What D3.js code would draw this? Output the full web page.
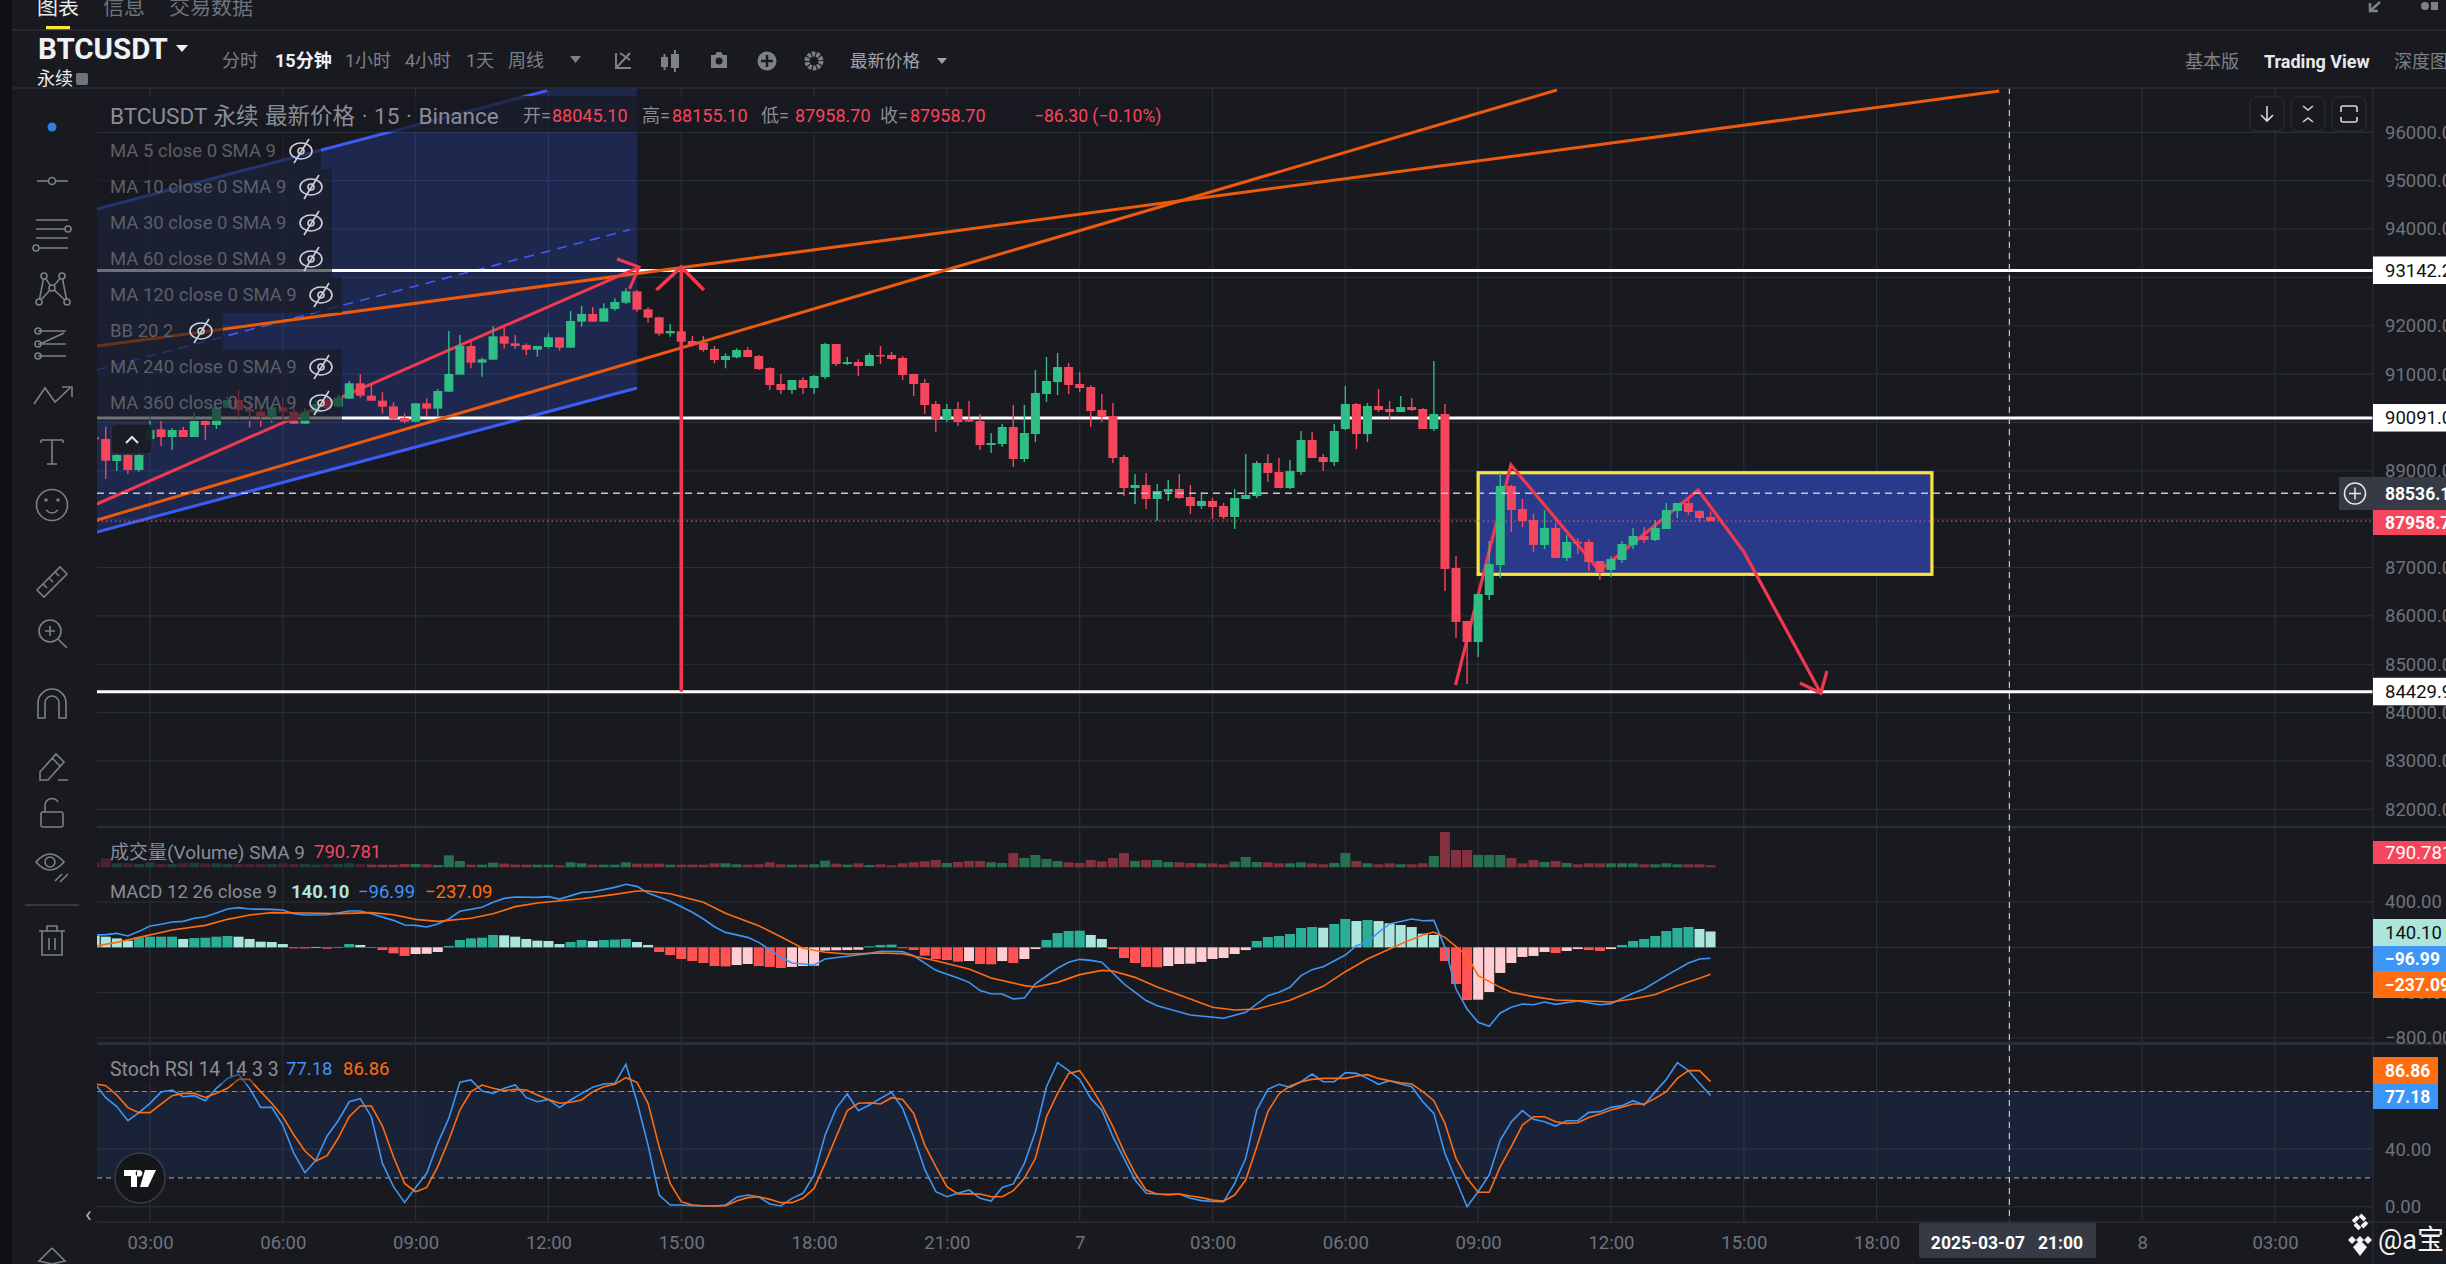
<!DOCTYPE html>
<html>
<head>
<meta charset="utf-8">
<script src="https://cdn.jsdelivr.net/npm/d3@7"></script>
<style>
html,body{margin:0;padding:0;background:#181a20;overflow:hidden}
svg{display:block}
text{font-family:Roboto,"Noto Sans CJK SC",sans-serif}
</style>
</head>
<body>
<div id="chart"></div>
<script>
// 15 minute bars, first one at 01:45 on the 6th
const barStart = 1.75
const barStep = 0.25

const open = [89692,89658,89203,89327,89017,89658,89858,89699,89844,89699,
90030,89947,90306,90464,90278,90223,90120,90312,90223,89975,
90209,90464,90326,90492,90809,90554,90450,90333,90092,90016,
90395,90285,90636,90988,91581,91236,91298,91781,91636,91602,
91505,91560,91760,91546,92084,92243,92084,92346,92477,92711,
92339,92174,91842,91884,91684,91650,91519,91291,91346,91498,
91374,91126,90795,90671,90878,90712,90940,91622,91209,91250,
91167,91395,91395,91333,91002,90816,90381,90051,90278,90051,
90030,89534,89554,89906,89244,89761,90588,90836,91146,90795,
90733,90257,90133,89285,88644,88706,88417,88562,88624,88458,
88272,88376,88272,88045,88417,88479,89161,88975,88644,88975,
89637,89285,89182,89864,90381,89761,90340,90278,90216,90319,
90278,89864,90175,86990,85894,85460,86432,87052,88686,88210,
87983,87466,87818,87197,87528,87528,87135,86949,87156,87466,
87652,87569,87797,88169,88334,88169,88045.1]

const high = [89750,89913,89430,89361,89499,90120,90037,89878,89913,90223,
90085,90326,90533,90671,90533,90326,90361,90533,90326,90292,
90464,90520,90581,90857,90995,90774,90623,90416,90188,90395,
90499,90692,91891,91808,91670,91340,91994,91967,91808,91636,
91581,91843,91760,92305,92408,92380,92463,92566,92773,92739,
92380,92188,92036,91946,91788,91788,91581,91429,91533,91553,
91395,91140,91002,90878,90933,90981,91650,91622,91353,91305,
91436,91581,91457,91374,91002,90898,90443,90381,90423,90443,
90175,89782,89968,90361,90361,91084,91353,91436,91229,91043,
90774,90588,90402,89327,88934,88955,88727,88810,88934,88706,
88562,88437,88334,88624,89347,89203,89347,89265,89223,89823,
89802,89347,89968,90754,90402,90402,90692,90443,90547,90505,
90299,91271,90382,87238,85894,86453,87549,88955,88707,88417,
88107,88190,87921,87673,87611,87590,87135,87238,87549,87818,
87838,87983,88334,88334,88397,88190,88155.1]

const low = [89600,88830,89003,88934,88982,89637,89513,89430,89699,89699,
89637,89865,90292,90085,89899,89913,89995,90050,89975,89975,
90190,90250,90326,90492,90512,90450,90182,90050,89982,90002,
90140,90120,90636,90988,91119,90947,91298,91526,91526,91395,
91360,91533,91484,91546,91981,92084,92084,92311,92449,92291,
92063,91795,91774,91636,91567,91464,91222,91119,91326,91353,
91084,90671,90588,90588,90588,90588,90898,91167,91188,90960,
91167,91209,91291,90878,90547,90175,89802,90009,89926,90009,
89430,89368,89492,89079,89182,89596,90423,90567,90588,90630,
89906,90009,89161,88479,88313,88210,87962,88376,88417,88107,
88210,88003,88003,87796,88417,88437,88768,88644,88624,88913,
89265,88996,89099,89844,89451,89596,90216,90051,90216,90237,
89864,89823,86515,85543,84592,85150,86329,86784,87735,87838,
87321,87383,87197,87135,87280,86928,86742,86804,87094,87383,
87507,87549,87797,88024,88086,87941,87958.7]

const close = [89651,89210,89327,89017,89327,89844,89699,89844,89699,90030,
89947,90306,90464,90257,90223,90120,90312,90223,89975,90209,
90382,90292,90512,90809,90554,90450,90326,90078,90016,90395,
90285,90650,91002,91581,91236,91305,91781,91629,91581,91505,
91581,91760,91546,92098,92243,92084,92360,92491,92711,92332,
92167,91836,91891,91670,91601,91498,91291,91374,91498,91353,
91105,90774,90671,90878,90712,90960,91622,91209,91250,91167,
91395,91374,91312,90981,90795,90361,90051,90278,90009,90030,
89534,89575,89906,89244,89782,90609,90857,91146,90774,90712,
90237,90113,89265,88644,88706,88417,88582,88624,88437,88272,
88376,88251,88045,88437,88500,89161,88955,88644,88996,89637,
89265,89182,89823,90381,89761,90340,90257,90216,90319,90257,
89864,90175,86970,85874,85460,86453,87073,88686,88190,87962,
87466,87818,87197,87528,87507,87114,86908,87176,87487,87652,
87569,87818,88190,88334,88148,88024,87958.7]

const volume = [1950,3510,1560,1560,1300,1820,1300,1300,1560,1690,1560,1560,1300,1300,1170,1300,1300,1560,1300,1300,1040,1170,1300,1560,1300,1040,
1040,1040,1300,1300,1170,910,4680,2470,1040,1040,1820,1430,1040,1040,1040,1040,790,1950,1560,1040,1040,1040,1950,1430,1430,1430,1040,1040,1040,1040,1560,1560,1170,1040,1170,1950,1170,1040,1040,1170,2600,1430,1040,
1560,910,1170,790,1560,1950,2340,2860,1690,2080,2470,2470,1950,1690,5590,3640,4810,3250,2470,1950,1690,2860,2340,3640,5590,2470,2860,2860,2080,1950,1690,1560,1560,1170,2210,4030,2080,1950,1560,1560,1950,1560,1170,1690,5590,2470,1560,1170,1560,1170,1170,1560,4420,13780,6760,6760,4810,4810,4810,3640,1560,2860,2080,2470,1690,1170,1560,1560,1560,1560,1560,1170,1170,1560,1170,1170,1170,790]

const macdHist = [103,94,79,59,88,94,94,94,74,82,
85,94,100,94,74,50,47,29,-9,-10,
-6,-12,-3,29,21,-6,-24,-53,-76,-59,
-57,-41,12,65,79,85,109,106,94,74,
59,56,29,47,65,56,65,68,74,47,
21,-41,-68,-103,-121,-138,-165,-168,-156,-147,
-165,-173,-182,-173,-165,-162,-29,-26,-24,-21,
9,21,24,-9,-24,-74,-103,-112,-126,-121,
-147,-150,-121,-138,-103,-15,65,126,144,147,
109,74,-15,-94,-138,-173,-176,-165,-147,-144,
-129,-103,-94,-59,-24,56,91,100,118,171,
179,173,206,250,232,241,232,212,197,179,
121,109,-121,-323,-465,-462,-394,-226,-138,-85,
-76,-41,-50,-32,-15,-24,-32,-15,21,56,
74,100,144,171,179,162,140.1]

// macd lines were read at their turning points, so each keeps its own bar numbers
const difBars = [0,1,2,3,4,5,6,7,8,9,10,11,12,13,14,16,17,18,19,21,23,24,25,27,28,29,30,31,32,33,35,36,37,38,40,41,42,44,45,47,48,49,50,52,54,55,56,57,59,60,62,63,65,66,68,70,71,73,74,76,78,79,80,81,82,83,84,85,87,88,89,90,91,93,95,96,99,102,104,106,107,108,109,110,111,113,114,115,116,117,119,120,121,122,123,124,125,126,127,128,129,130,131,132,134,136,137,139,140,142,144,145,146]
const difValues = [109,112,123,100,141,188,203,223,229,256,270,303,338,350,338,335,329,297,285,288,320,320,297,238,197,194,179,206,250,318,353,397,432,444,441,447,426,485,491,529,556,538,479,406,309,250,182,132,88,44,-88,-138,-156,-103,-79,-53,-35,-38,-74,-203,-270,-309,-382,-409,-412,-456,-447,-323,-185,-132,-106,-115,-132,-323,-470,-515,-597,-626,-573,-426,-397,-353,-250,-197,-171,-68,15,44,132,206,250,235,238,0,-368,-544,-661,-697,-579,-529,-500,-506,-482,-503,-473,-506,-497,-406,-368,-250,-138,-103,-96.99]
const deaBars = [0,2,4,7,10,12,14,16,19,22,25,27,29,31,34,36,38,40,44,47,49,50,52,55,57,60,62,64,66,68,71,73,76,79,81,84,85,87,89,91,92,94,96,99,101,103,105,108,111,113,115,118,120,121,122,124,125,127,128,130,132,135,137,139,141,143,145,146]
const deaValues = [9,44,88,153,194,247,285,306,303,297,306,288,247,229,256,297,359,391,429,467,497,497,473,397,300,191,94,-9,-44,-59,-50,-56,-118,-191,-270,-338,-350,-309,-241,-203,-209,-265,-350,-456,-529,-553,-544,-467,-344,-215,-103,29,109,135,88,-74,-250,-353,-397,-435,-465,-473,-482,-456,-417,-338,-273,-237.09]

const stochK = [85.7,75.7,69.5,59.7,65.3,71.8,79.6,81,76.4,77.1,
73.6,82.2,89.1,91.9,82.2,69,69,56.7,37,23.6,
32.4,49.1,59.7,72.9,75,62.5,30.1,13.9,3,13.4,
23.2,44,61.4,86.4,88,80.3,78.7,82.2,84.5,75.7,
72.9,74.5,68.8,74.1,78.7,82.9,85.2,85.7,98.9,72.9,
42.8,8.1,1.2,1.2,0.7,0.5,0.5,1.2,6.5,8.1,
6.9,1.9,0.5,5.8,9.3,22,49.8,68.3,78.3,66.7,
70.6,75.2,79.4,68.3,48.6,25.9,10.4,6.9,9.3,11.6,
5.8,3.9,13.4,15.8,30.1,52.1,83.3,100,94.5,88.4,
75.2,67.1,48.6,33.6,18.5,9.3,8.8,8.1,8.8,5.8,
4.2,3.7,3.5,16.2,33.6,67.1,81.5,85,82.9,86.8,
92.1,86.8,86.8,93.1,92.6,89.1,85,87.5,85.2,83.3,
72.9,64.8,37,18.5,0,10.4,22,46.3,59,66.7,
60.7,59,56,59.7,59.7,65.5,66,69,70.2,73.6,
70.6,79.9,88.4,100,94.5,85.7,77.18]

const stochD = [85.4,84,77.6,68.8,65.3,65.3,71.3,77.1,78.7,78.7,
75.9,78.7,82.2,88.4,88.4,79.9,71.8,62.5,49.8,38.7,
31.7,35.4,47.5,62.5,69.9,69.9,56,34.7,16.2,10.4,
13.4,27.8,46.3,67.1,79.9,84.5,82.2,80.6,81.5,81,
77.6,74.5,71.8,72.5,74.1,79.9,83.3,85,89.6,86.4,
71.8,41.7,16.2,3.5,1.2,0.7,0.5,0.7,3.9,6.3,
6.9,5.1,2.8,2.8,5.8,12.7,30.1,48.6,66.7,71.8,
72.2,71.3,75.7,74.5,64.8,42.8,27.8,13.9,8.8,9,
8.8,6.9,6.9,11.1,19.7,33.6,62.5,78.7,92.6,94.5,
83.3,70.6,55.6,38.2,23.2,11.6,8.8,8.6,8.8,7.4,
6.3,4.6,3.9,8.1,18.5,41.7,66,78.3,83.8,86.8,
88.4,89.1,89.1,89.1,90.8,91.7,89.1,87.5,86.1,85.2,
79.9,73.6,57.9,33.6,19.7,10,10,27.8,41.7,56.7,
62.5,62.5,59,57.9,58.3,62,64.4,67.1,69,71.3,
71.3,75.2,79.9,89.1,94.5,94.5,86.86]

const priceTicks = [96000,95000,94000,93000,92000,91000,90000,89000,88000,87000,86000,85000,84000,83000,82000]
const macdTicks = [400,0,-400,-800]
const stochTicks = [80,40,0]
const timeTicks = [3,6,9,12,15,18,21,24,27,30,33,36,39,42,45,48,51]
const timeLabels = ["03:00","06:00","09:00","12:00","15:00","18:00","21:00","7","03:00","06:00","09:00","12:00","15:00","18:00","21:00","8","03:00"]

// levels and drawings, as [hour, price]
const levels = [93142.2,90091,84429.9]
const crossPrice = 88536.1
const lastPrice = 87958.7
const crossTime = 45
const channelFill = [[1.8,94414],[14,97350],[14,90712],[1.8,87734]]
const channelTop = [[1.8,94414],[11.97,96862]]
const channelBottom = [[1.8,87734],[14,90712]]
const channelMid = [[1.8,91084],[13.84,93986]]
const trendShallow = [[1.8,91581],[44.77,96854]]
const trendSteep = [[1.8,87982],[34.78,96875]]
const arrowUp = [[1.8,88313],[14.05,93214]]
const arrowUpHead = [[13.55,93380],[14.05,93214],[13.83,92760]]
const arrowVert = [[15,84429.9],[15,93214]]
const arrowVertHead = [[14.44,92739],[15,93214],[15.51,92739]]
const zigzag = [[32.49,84570],[33.74,89120],[35.74,86934],[37.97,88603],[39,87327],[40.74,84399]]
const zigzagHead = [[40.27,84612],[40.74,84399],[40.88,84860]]
const boxTime = [33,43.25]
const boxPrice = [88960,86859]

const WIDTH = 2446, HEIGHT = 1264
const left = 97, right = 2373

const up = "#2ebd85", down = "#f6465d"
const gridColor = "#2a2e37"

const bars = open.map((o,i) => ({i, t: barStart + i*barStep, o, h: high[i], l: low[i], c: close[i], v: volume[i], m: macdHist[i]}))

const x = d3.scaleLinear().domain([3,24]).range([150,1079.7])
const y = d3.scaleLinear().domain([82000,96000]).range([809.3,132.3])
const yVol = d3.scaleLinear().domain([0,13780]).range([867.3,832])
const yMacd = d3.scaleLinear().domain([-800,400]).range([1038,902])
const yStoch = d3.scaleLinear().domain([0,100]).range([1206.7,1062.7])
const barX = i => x(barStart + i*barStep)

const svg = d3.select("#chart").append("svg").attr("width",WIDTH).attr("height",HEIGHT).attr("viewBox",`0 0 ${WIDTH} ${HEIGHT}`)
const defs = svg.append("defs")
defs.append("clipPath").attr("id","main").append("rect").attr("x",left).attr("y",88).attr("width",right-left).attr("height",739)
defs.append("clipPath").attr("id","all").append("rect").attr("x",left).attr("y",88).attr("width",right-left).attr("height",1134)

svg.append("rect").attr("width",WIDTH).attr("height",HEIGHT).attr("fill","#181a20")
svg.append("rect").attr("width",12).attr("height",HEIGHT).attr("fill","#0e1013")

function hline(g,yy,x1,x2,color,w,dash){
    const l = g.append("line").attr("x1",x1).attr("x2",x2).attr("y1",yy).attr("y2",yy).attr("stroke",color).attr("stroke-width",w)
    if(dash) l.attr("stroke-dasharray",dash)
    return l
}
function label(g,tx,ty,str,size,color,opts){
    opts = opts || {}
    return g.append("text").attr("x",tx).attr("y",ty).attr("dy","0.35em").attr("font-size",size).attr("fill",color)
        .attr("font-weight",opts.bold ? 700 : 400).attr("text-anchor",opts.anchor || "start").text(str)
}

// grid
const grid = svg.append("g")
timeTicks.forEach(t => {
    grid.append("line").attr("x1",x(t)).attr("x2",x(t)).attr("y1",88).attr("y2",1222).attr("stroke",gridColor).attr("stroke-width",1.2)
})
priceTicks.forEach(p => hline(grid,y(p),left,right,gridColor,1.2))
macdTicks.forEach(p => hline(grid,yMacd(p),left,right,gridColor,1.2))
stochTicks.forEach(p => hline(grid,yStoch(p),left,right,gridColor,1.2))

// stoch band
svg.append("rect").attr("x",left).attr("width",right-left).attr("y",yStoch(80)).attr("height",yStoch(20)-yStoch(80)).attr("fill","#2962ff").attr("fill-opacity",0.11)
stochTicks.slice(1).forEach(p => hline(svg,yStoch(p),left,right,gridColor,1.2))
timeTicks.forEach(t => {
    svg.append("line").attr("x1",x(t)).attr("x2",x(t)).attr("y1",yStoch(80)).attr("y2",yStoch(20)).attr("stroke",gridColor).attr("stroke-width",1.2)
})

// pane separators
hline(svg,827,left,WIDTH,"#2a2e39",2.5)
hline(svg,1043.5,left,WIDTH,"#2a2e39",3)

// drawings sit under the candles
const draw = svg.append("g").attr("clip-path","url(#main)")
const line = d3.line().x(d => x(d[0])).y(d => y(d[1]))
draw.append("path").attr("d",line(channelFill)+"Z").attr("fill","#3052d8").attr("fill-opacity",0.25)
function stroke(pts,color,w,dash){
    const p = draw.append("path").attr("d",line(pts)).attr("fill","none").attr("stroke",color).attr("stroke-width",w).attr("stroke-linejoin","miter")
    if(dash) p.attr("stroke-dasharray",dash)
}
stroke(channelTop,"#3d5cf5",3)
stroke(channelBottom,"#3d5cf5",3)
stroke(channelMid,"#3d5cf5",1.6,"10 7")
levels.forEach(p => hline(draw,y(p),left,right,"#ffffff",3))
stroke(trendShallow,"#ec5a0c",3)
stroke(trendSteep,"#ec5a0c",3)
stroke(arrowUp,"#f2394f",3)
stroke(arrowUpHead,"#f2394f",3)
stroke(arrowVert,"#f2394f",3.5)
stroke(arrowVertHead,"#f2394f",3.5)

draw.append("rect").attr("x",x(boxTime[0])).attr("width",x(boxTime[1])-x(boxTime[0]))
    .attr("y",y(boxPrice[0])).attr("height",y(boxPrice[1])-y(boxPrice[0]))
    .attr("fill","#2b3c8e").attr("fill-opacity",0.97).attr("stroke","#fbe43a").attr("stroke-width",3.2)
stroke(zigzag,"#f0394f",3.2)
stroke(zigzagHead,"#f0394f",3.2)

// candles
const panes = svg.append("g").attr("clip-path","url(#all)")
const candle = panes.append("g").selectAll("g").data(bars).enter().append("g")
candle.append("line").attr("x1",d => barX(d.i)).attr("x2",d => barX(d.i)).attr("y1",d => y(d.h)).attr("y2",d => y(d.l))
    .attr("stroke",d => d.c >= d.o ? up : down).attr("stroke-width",1.4)
candle.append("rect").attr("x",d => barX(d.i)-4.5).attr("width",9)
    .attr("y",d => y(Math.max(d.o,d.c))).attr("height",d => Math.max(1.5,Math.abs(y(d.o)-y(d.c))))
    .attr("fill",d => d.c >= d.o ? up : down)

// volume
panes.append("g").selectAll("rect").data(bars).enter().append("rect")
    .attr("x",d => barX(d.i)-5).attr("width",10)
    .attr("y",d => yVol(d.v)).attr("height",d => yVol(0)-yVol(d.v))
    .attr("fill",d => d.c >= d.o ? "#26704f" : "#83303f")

// macd histogram, shade follows whether the bar grew on the previous one
function histColor(d){
    const prev = d.i > 0 ? macdHist[d.i-1] : Infinity
    if(d.m >= 0) return d.m >= prev ? "#2bae96" : "#ace5dc"
    return d.m < prev ? "#ff5252" : "#ffcdd2"
}
panes.append("g").selectAll("rect").data(bars).enter().append("rect")
    .attr("x",d => barX(d.i)-5).attr("width",10)
    .attr("y",d => Math.min(yMacd(0),yMacd(d.m))).attr("height",d => Math.abs(yMacd(d.m)-yMacd(0)))
    .attr("fill",histColor)

const macdLine = d3.line().x(d => barX(d[0])).y(d => yMacd(d[1]))
panes.append("path").attr("d",macdLine(difBars.map((b,k) => [b,difValues[k]]))).attr("fill","none").attr("stroke","#3d96f5").attr("stroke-width",1.6)
panes.append("path").attr("d",macdLine(deaBars.map((b,k) => [b,deaValues[k]]))).attr("fill","none").attr("stroke","#ff6d10").attr("stroke-width",1.6)

// stoch rsi
const stochLine = d3.line().x((d,i) => barX(i)).y(d => yStoch(d))
hline(svg,yStoch(80),left,right,"#8b8e95",1.2,"5 4")
hline(svg,yStoch(20),left,right,"#8b8e95",1.2,"5 4")
panes.append("path").attr("d",stochLine(stochK)).attr("fill","none").attr("stroke","#3d96f5").attr("stroke-width",1.6)
panes.append("path").attr("d",stochLine(stochD)).attr("fill","none").attr("stroke","#ff6d10").attr("stroke-width",1.6)

// crosshair and last price line
hline(svg,y(lastPrice),left,right,down,1.3,"1.5 3")
hline(svg,y(crossPrice),left,2339,"#c3c5ca",1.3,"7 5")
svg.append("line").attr("x1",x(crossTime)).attr("x2",x(crossTime)).attr("y1",88).attr("y2",1222).attr("stroke","#c3c5ca").attr("stroke-width",1.2).attr("stroke-dasharray","6 5")

// legend rows over the drawings
const legendBg = "#181a20"
const legend = svg.append("g")
function eye(g,cx,cy){
    const e = g.append("g").attr("transform",`translate(${cx},${cy})`).attr("fill","none").attr("stroke","#cfd1d6").attr("stroke-width",1.6)
    e.append("ellipse").attr("rx",11).attr("ry",8)
    e.append("circle").attr("r",3)
    e.append("line").attr("x1",-7).attr("y1",12).attr("x2",8).attr("y2",-12)
}
legend.append("rect").attr("x",left).attr("y",96).attr("width",1048).attr("height",36).attr("fill",legendBg).attr("fill-opacity",0.75)
label(legend,110,116,"BTCUSDT 永续 最新价格 · 15 · Binance",22.5,"#8a8d96").attr("word-spacing",1)
const ohlcNames = [["开=",523,"88045.10",552],["高=",642,"88155.10",672],["低=",761,"87958.70",795],["收=",880,"87958.70",910]]
ohlcNames.forEach(r => {
    label(legend,r[1],116,r[0],18,"#8a8d96")
    label(legend,r[3],116,r[2],18,down)
})
label(legend,1034,116,"−86.30 (−0.10%)",17.5,down)

const maRows = [["MA 5 close 0 SMA 9",151,321,301],["MA 10 close 0 SMA 9",187,332,311],["MA 30 close 0 SMA 9",223,332,311],["MA 60 close 0 SMA 9",259,332,311],["MA 120 close 0 SMA 9",295,342,321],["BB 20 2",331,223,201],["MA 240 close 0 SMA 9",367,342,321],["MA 360 close 0 SMA 9",403,342,321]]
maRows.forEach(r => {
    legend.append("rect").attr("x",left).attr("y",r[1]-18).attr("width",r[2]-left).attr("height",36).attr("fill",legendBg).attr("fill-opacity",0.62)
    label(legend,110,r[1],r[0],18.5,"#5c5f68")
    eye(legend,r[3],r[1])
})

legend.append("rect").attr("x",left).attr("y",838).attr("width",270).attr("height",30).attr("fill",legendBg).attr("fill-opacity",0.55)
label(legend,110,852,"成交量(Volume) SMA 9",19,"#8a8d96")
label(legend,314,852,"790.781",18.5,down)
label(legend,110,892,"MACD 12 26 close 9",18.5,"#8a8d96")
label(legend,291,892,"140.10",18.5,"#ace5dc",{bold:true})
label(legend,358,892,"−96.99",18.5,"#3d96f5")
label(legend,425,892,"−237.09",18.5,"#ff6d10")
legend.append("rect").attr("x",left).attr("y",1054).attr("width",300).attr("height",30).attr("fill",legendBg).attr("fill-opacity",0.4)
label(legend,110,1069,"Stoch RSI 14 14 3 3",19.5,"#8a8d96")
label(legend,286,1069,"77.18",18.5,"#3d96f5")
label(legend,343,1069,"86.86",18.5,"#ff6d10")

// collapse button and tradingview badge
legend.append("rect").attr("x",111).attr("y",424).attr("width",41).attr("height",30).attr("rx",5).attr("fill","#1a1c22").attr("fill-opacity",0.92).attr("stroke","#33363f")
legend.append("path").attr("d","M126 443L132 437L138 443").attr("fill","none").attr("stroke","#e4e5e8").attr("stroke-width",2)
legend.append("circle").attr("cx",140).attr("cy",1178).attr("r",25).attr("fill","#14161a").attr("stroke","#3a3d45").attr("stroke-width",1.5)
legend.append("path").attr("d","M124 1170H137V1187H131V1176H124ZM145 1170H156L148 1187H140ZM139 1170a3.4 3.4 0 1 0 .1 0").attr("fill","#fff")
label(legend,85,1214,"‹",22,"#b5b7bc")

// right axis
svg.append("rect").attr("x",right).attr("y",88).attr("width",WIDTH-right).attr("height",1176).attr("fill","#181a20")
svg.append("line").attr("x1",right).attr("x2",right).attr("y1",88).attr("y2",1264).attr("stroke",gridColor).attr("stroke-width",1.2)
hline(svg,827,right,WIDTH,"#2a2e39",2.5)
hline(svg,1043.5,right,WIDTH,"#2a2e39",3)

function yAxis(scale,ticks,fmt){
    const g = svg.append("g").attr("transform",`translate(${right},0)`)
        .call(d3.axisRight(scale).tickValues(ticks).tickSize(0).tickPadding(12).tickFormat(fmt))
    g.select(".domain").remove()
    g.selectAll("text").attr("font-size",18.5).attr("fill","#6f737c").style("font-family",'Roboto,"Noto Sans CJK SC",sans-serif')
}
const fmt2 = d3.format(".2f")
yAxis(y,priceTicks,fmt2)
yAxis(yMacd,macdTicks,fmt2)
yAxis(yStoch,stochTicks,fmt2)

function tag(y1,y2,w,bg,fg,str,bold){
    svg.append("rect").attr("x",right).attr("y",y1).attr("width",w).attr("height",y2-y1).attr("fill",bg)
    label(svg,2385,(y1+y2)/2,str,bold ? 17.5 : 18.5,fg,{bold})
}
levels.forEach(p => tag(y(p)-14,y(p)+13.5,WIDTH-right,"#ffffff","#111111",fmt2(p)))
tag(477,510,WIDTH-right,"#363a45","#ffffff",fmt2(crossPrice),true)
tag(510,535,WIDTH-right,down,"#ffffff",fmt2(lastPrice),true)
tag(841,864,WIDTH-right,down,"#ffffff","790.781")
tag(919,946,WIDTH-right,"#ace5dc","#111111","140.10")
tag(946,971,WIDTH-right,"#3d96f5","#ffffff","−96.99",true)
tag(971,998,WIDTH-right,"#ff6d10","#ffffff","−237.09",true)
tag(1057,1084,65,"#ff6d10","#ffffff","86.86",true)
tag(1084,1109,65,"#3d96f5","#ffffff","77.18",true)

// plus button beside the crosshair price
svg.append("rect").attr("x",2339).attr("y",477).attr("width",34).attr("height",33).attr("fill","#363a45")
const plus = svg.append("g").attr("transform","translate(2355,493.5)").attr("fill","none").attr("stroke","#e6e7ea").attr("stroke-width",1.5)
plus.append("circle").attr("r",10.5)
plus.append("path").attr("d","M-6 0H6M0 -6V6")

// bottom axis
hline(svg,1222,left,WIDTH,gridColor,1.5)
const tAxis = svg.append("g").attr("transform","translate(0,1243)")
    .call(d3.axisBottom(x).tickValues(timeTicks).tickSize(0).tickPadding(0).tickFormat((d,i) => timeLabels[i]))
tAxis.select(".domain").remove()
tAxis.selectAll("text").attr("dy","0.35em").attr("y",0).attr("font-size",18.5).attr("fill","#6f737c").style("font-family",'Roboto,"Noto Sans CJK SC",sans-serif')
svg.append("rect").attr("x",1919).attr("y",1223).attr("width",177).attr("height",35).attr("rx",2).attr("fill","#363a45")
label(svg,2007,1243,"2025-03-07   21:00",17.5,"#ffffff",{anchor:"middle",bold:true}).style("white-space","pre")

// page chrome
const nav = svg.append("g")
label(nav,37,7,"图表",21,"#e8e9eb")
label(nav,103,7,"信息",21,"#6f737c")
label(nav,169,7,"交易数据",21,"#6f737c")
nav.append("rect").attr("x",46).attr("y",26).attr("width",24).attr("height",4).attr("fill","#fce639")
hline(nav,30,12,WIDTH,"#2a2e39",1.5)
hline(nav,88,12,WIDTH,"#2a2e39",1.5)
label(nav,38,49,"BTCUSDT",29.5,"#f0f1f3",{bold:true})
nav.append("path").attr("d","M176 45H188L182 52Z").attr("fill","#f0f1f3")
label(nav,37,79,"永续",18,"#e8e9eb")
nav.append("rect").attr("x",76).attr("y",73).attr("width",12).attr("height",12).attr("rx",2).attr("fill","#6f737c")
const periods = [["分时",222,false],["15分钟",275,true],["1小时",345,false],["4小时",405,false],["1天",466,false],["周线",508,false]]
periods.forEach(p => label(nav,p[1],61,p[0],18,p[2] ? "#f0f1f3" : "#7d8087",{bold:p[2]}))
nav.append("path").attr("d","M570 56H581L575.5 63Z").attr("fill","#7d8087")
label(nav,850,61,"最新价格",17.5,"#a0a3aa")
nav.append("path").attr("d","M937 58H947L942 64Z").attr("fill","#a0a3aa")
label(nav,2185,62,"基本版",18,"#7d8087")
label(nav,2264,62,"Trading View",18,"#e8e9eb",{bold:true})
label(nav,2394,62,"深度图",18,"#7d8087")

const gray = "#7d8087"
const ticon = nav.append("g").attr("fill","none").attr("stroke",gray).attr("stroke-width",2)
ticon.append("path").attr("d","M616 53V68H631M617 67L630 53M620 53L630 60")
nav.append("rect").attr("x",661).attr("y",57).attr("width",7).attr("height",10).attr("fill",gray)
nav.append("rect").attr("x",671).attr("y",54).attr("width",8).attr("height",14).attr("fill",gray)
ticon.append("path").attr("d","M664.5 54V70M675 50V72")
nav.append("path").attr("d","M711 55H715L717 52H721L723 55H727V68H711Z").attr("fill",gray)
nav.append("circle").attr("cx",719).attr("cy",61).attr("r",3.5).attr("fill","#181a20")
nav.append("circle").attr("cx",767).attr("cy",61).attr("r",9.5).attr("fill",gray)
nav.append("path").attr("d","M761 61H773M767 55V67").attr("stroke","#181a20").attr("stroke-width",2.5)
nav.append("circle").attr("cx",814).attr("cy",61).attr("r",7).attr("fill","none").attr("stroke",gray).attr("stroke-width",5).attr("stroke-dasharray","3.2 1.2")
nav.append("path").attr("d","M2370 11L2380 2M2370 3V11H2378").attr("fill","none").attr("stroke",gray).attr("stroke-width",2.5)
nav.append("circle").attr("cx",2425).attr("cy",6).attr("r",4).attr("fill",gray)
nav.append("rect").attr("x",2431).attr("y",2).attr("width",7).attr("height",8).attr("fill",gray)

// the three buttons at the top right of the plot
;[2267,2308,2349].forEach(cx => {
    nav.append("rect").attr("x",cx-17).attr("y",97).attr("width",34).attr("height",34).attr("rx",6).attr("fill","#181a20").attr("stroke","#2d3039")
})
const btn = nav.append("g").attr("fill","none").attr("stroke","#d5d7db").attr("stroke-width",1.6)
btn.append("path").attr("d","M2267 106V121M2261 115L2267 121L2273 115")
btn.append("path").attr("d","M2303 106L2308 110L2313 106M2303 122L2308 118L2313 122")
btn.append("path").attr("d","M2341 112V108a2 2 0 0 1 2 -2H2355a2 2 0 0 1 2 2V112M2341 117V120a2 2 0 0 0 2 2H2355a2 2 0 0 0 2 -2V117")

// left toolbar
const tb = svg.append("g").attr("fill","none").attr("stroke",gray).attr("stroke-width",1.6)
svg.append("circle").attr("cx",52).attr("cy",127).attr("r",4.5).attr("fill","#2f7fdd")
tb.append("path").attr("d","M37 181H68")
tb.append("circle").attr("cx",52).attr("cy",181).attr("r",3.5).attr("fill","#181a20")
tb.append("path").attr("d","M36 220H68M36 229H65M36 238H68M38 248H68")
tb.append("circle").attr("cx",68).attr("cy",229).attr("r",3)
tb.append("circle").attr("cx",36).attr("cy",248).attr("r",3)
tb.append("path").attr("d","M39 302L44 276L52 288L62 276L67 302M39 302L52 288L67 302")
;[[39,302],[44,276],[52,288],[62,276],[67,302]].forEach(p => tb.append("circle").attr("cx",p[0]).attr("cy",p[1]).attr("r",3).attr("fill","#181a20"))
tb.append("path").attr("d","M38 331H66M38 344H66M38 356H66M40 344L64 333").attr("stroke-dasharray","none")
tb.append("circle").attr("cx",38).attr("cy",331).attr("r",3)
tb.append("circle").attr("cx",38).attr("cy",344).attr("r",3)
tb.append("circle").attr("cx",38).attr("cy",356).attr("r",3)
tb.append("path").attr("d","M34 404L45 388L55 402L70 388M62 387H72V397")
tb.append("path").attr("d","M41 440H63M41 440V443M63 440V443M52 440V464M47 464H57")
tb.append("circle").attr("cx",52).attr("cy",505).attr("r",15.5)
tb.append("path").attr("d","M46 510Q52 516 58 510")
tb.append("circle").attr("cx",46).attr("cy",500).attr("r",1)
tb.append("circle").attr("cx",58).attr("cy",500).attr("r",1)
tb.append("path").attr("d","M37 590L60 567L67 574L44 597ZM43 584L47 588M49 578L53 582M55 572L59 576")
tb.append("circle").attr("cx",50).attr("cy",631).attr("r",11)
tb.append("path").attr("d","M58 639L67 648M45 631H55M50 626V636")
tb.append("path").attr("d","M38 718V703a14 14 0 0 1 28 0V718H59V703a7 7 0 0 0 -14 0V718Z")
tb.append("path").attr("d","M40 772L56 754L64 762L48 780H40ZM58 780H68M52 758L60 766")
tb.append("rect").attr("x",41).attr("y",812).attr("width",22).attr("height",15).attr("rx",2)
tb.append("path").attr("d","M45 812V805a7 7 0 0 1 13 -3")
tb.append("path").attr("d","M36 862Q50 846 64 862Q50 878 36 862Z")
tb.append("circle").attr("cx",50).attr("cy",862).attr("r",5)
tb.append("path").attr("d","M55 881L62 874M60 882L68 874")
hline(svg,905,25,79,"#35383f",2)
tb.append("path").attr("d","M39 931H65M47 931V926H57V931M42 931V955H62V931M49 938V950M55 938V950")
tb.append("path").attr("d","M52 1248L65 1261L52 1264M52 1248L39 1261L52 1264")

// watermark
const mark = svg.append("g").attr("fill","#f3f3f3")
mark.append("path").attr("d","M2360 1215L2367 1222L2360 1229L2353 1222Z").attr("fill","none").attr("stroke","#f3f3f3").attr("stroke-width",4).attr("stroke-dasharray","7 3")
mark.append("path").attr("d","M2348 1240L2352 1236L2356 1240L2352 1244ZM2364 1240L2368 1236L2372 1240L2368 1244ZM2356 1240L2360 1236L2364 1240L2360 1244ZM2353 1247L2360 1240L2367 1247L2360 1256Z")
label(mark,2378,1240,"@a宝",27,"#f3f3f3")
</script>
</body>
</html>
